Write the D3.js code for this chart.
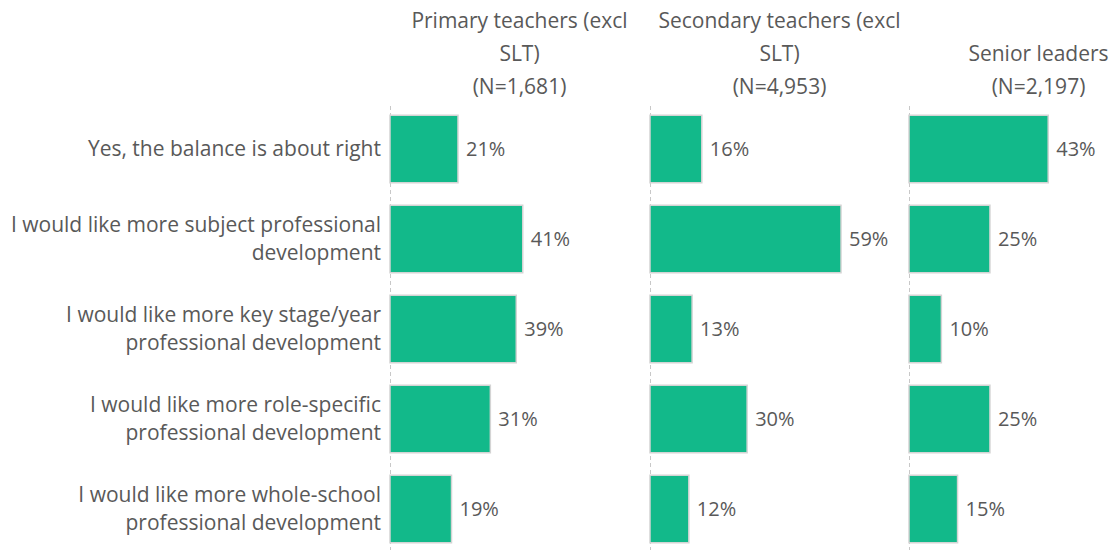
<!DOCTYPE html>
<html>
<head>
<meta charset="utf-8">
<script src="https://cdnjs.cloudflare.com/ajax/libs/d3/7.8.5/d3.min.js"></script>
<style>
  body { margin: 0; background: #fff; }
  text { font-family: "Open Sans", sans-serif; fill: #595959; }
</style>
</head>
<body>
<div id="chart"></div>
<script>
// categories (each split into lines for the left labels)
var categories = [
  ["Yes, the balance is about right"],
  ["I would like more subject professional", "development"],
  ["I would like more key stage/year", "professional development"],
  ["I would like more role-specific", "professional development"],
  ["I would like more whole-school", "professional development"]
];

var panelTitles = [
  ["Primary teachers (excl", "SLT)", "(N=1,681)"],
  ["Secondary teachers (excl", "SLT)", "(N=4,953)"],
  ["Senior leaders", "(N=2,197)"]
];

var primary   = [21, 41, 39, 31, 19];
var secondary = [16, 59, 13, 30, 12];
var leaders   = [43, 25, 10, 25, 15];

var series = [primary, secondary, leaders];

var width = 1113, height = 550;
var svg = d3.select("#chart").append("svg")
  .attr("width", width).attr("height", height);

var panelLeft = [390, 650, 909];
var panelWidth = 259;

var y = d3.scaleBand()
  .domain(d3.range(categories.length))
  .range([104, 554])
  .paddingInner(0.25)
  .paddingOuter(0.125);

var x = d3.scaleLinear().domain([0, 80]).range([0, panelWidth]);

// category labels
categories.forEach(function (lines, i) {
  var cy = y(i) + y.bandwidth() / 2;
  var lh = 28;
  var t = svg.append("text")
    .attr("text-anchor", "end")
    .style("font-size", "21px");
  lines.forEach(function (l, j) {
    t.append("tspan")
      .attr("x", 381)
      .attr("y", cy + (j - (lines.length - 1) / 2) * lh)
      .attr("dy", "0.35em")
      .text(l);
  });
});

series.forEach(function (vals, p) {
  var g = svg.append("g").attr("transform", "translate(" + panelLeft[p] + ",0)");

  // dashed axis line
  g.append("line")
    .attr("x1", 0.5).attr("x2", 0.5)
    .attr("y1", 106).attr("y2", height)
    .attr("stroke", "#c8c8c8")
    .attr("stroke-dasharray", "4,3");

  g.selectAll("rect").data(vals).enter().append("rect")
    .attr("x", 0)
    .attr("y", function (d, i) { return y(i); })
    .attr("width", function (d) { return x(d); })
    .attr("height", y.bandwidth())
    .attr("fill", "#12b98a")
    .attr("stroke", "#d4d4d4")
    .attr("stroke-width", 1.5);

  g.selectAll("text.val").data(vals).enter().append("text")
    .attr("class", "val")
    .attr("x", function (d) { return x(d) + 8; })
    .attr("y", function (d, i) { return y(i) + y.bandwidth() / 2; })
    .attr("dy", "0.35em")
    .style("font-size", "20px")
    .text(function (d) { return d + "%"; });

  // panel header, bottom-aligned
  var title = panelTitles[p];
  title.forEach(function (l, j) {
    g.append("text")
      .attr("x", panelWidth / 2)
      .attr("y", 87 - (title.length - 1 - j) * 33)
      .attr("dy", "0.35em")
      .attr("text-anchor", "middle")
      .style("font-size", "21px")
      .text(l);
  });
});
</script>
</body>
</html>
